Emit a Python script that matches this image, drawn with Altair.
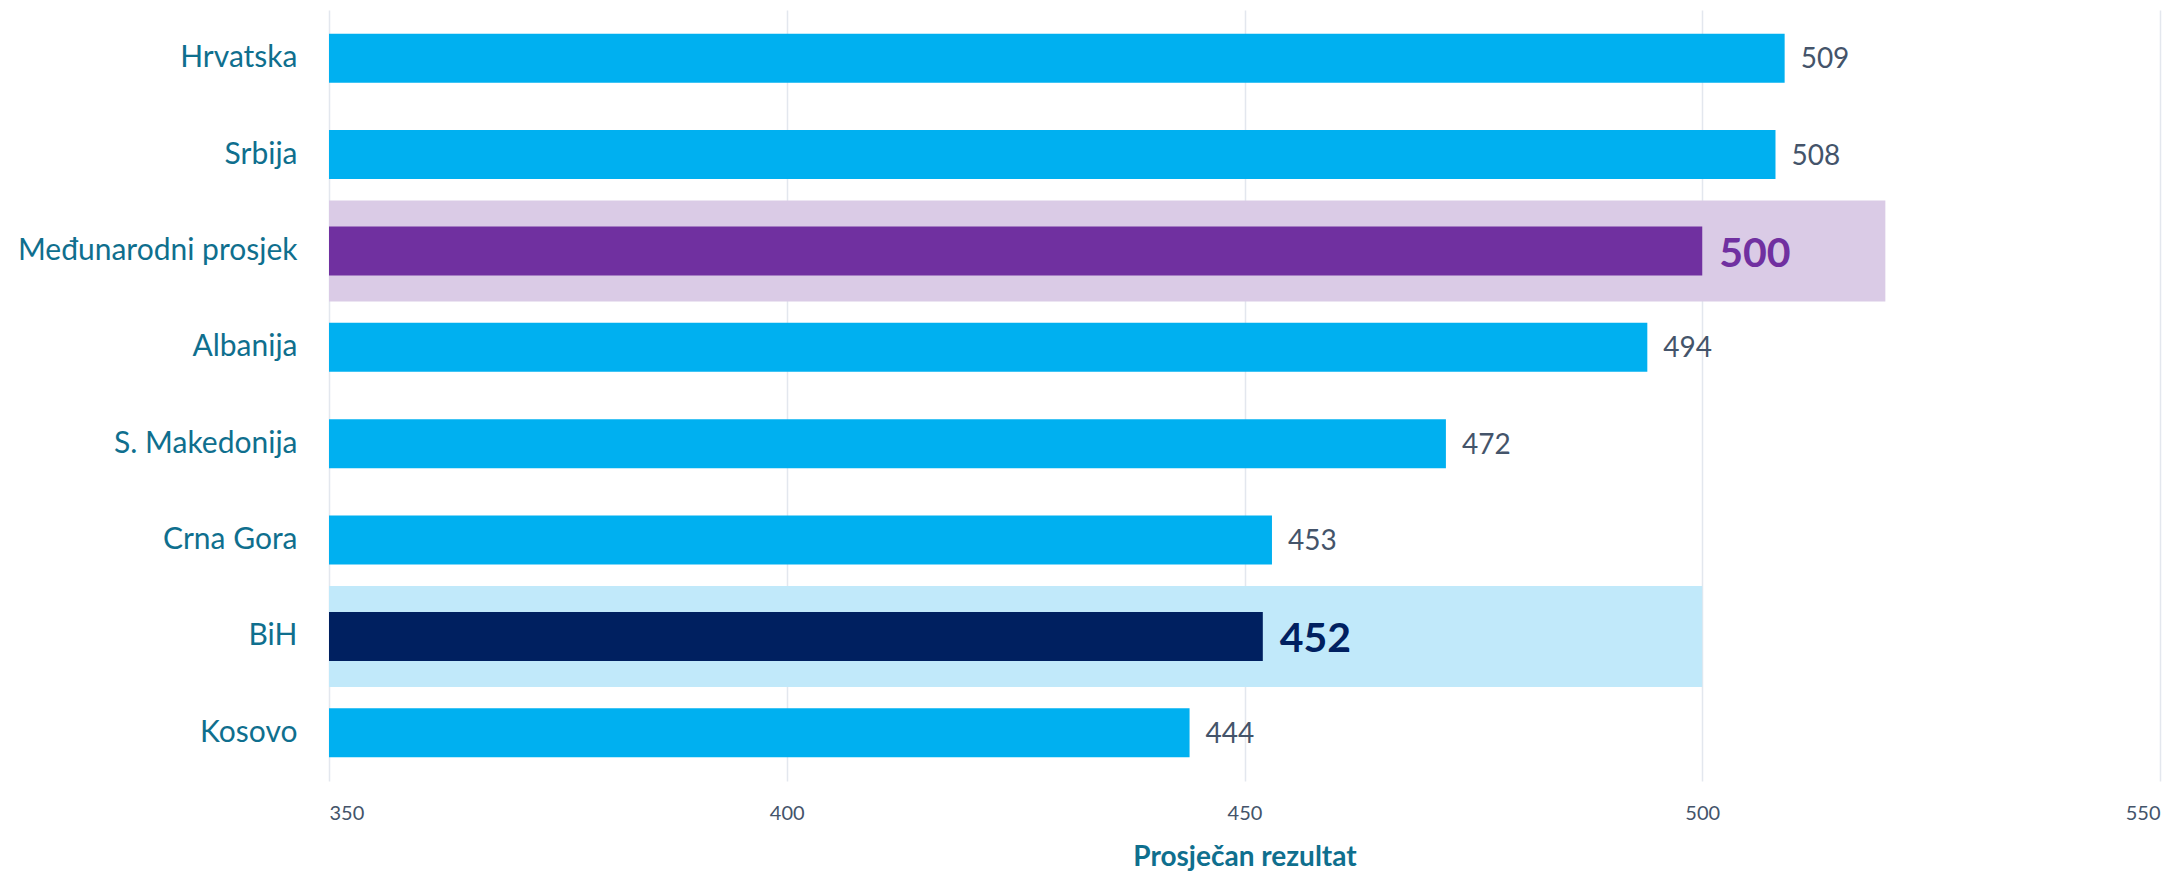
import altair as alt
import pandas as pd

countries = ["Hrvatska", "Srbija", "Međunarodni prosjek", "Albanija",
             "S. Makedonija", "Crna Gora", "BiH", "Kosovo"]
scores = [509, 508, 500, 494, 472, 453, 452, 444]
bar_colors = ["#00B0F0", "#00B0F0", "#7030A0", "#00B0F0",
              "#00B0F0", "#00B0F0", "#002060", "#00B0F0"]
emphasis = [False, False, True, False, False, False, True, False]

hl_countries = ["Međunarodni prosjek", "BiH"]
hl_end = [520, 500]
hl_colors = ["#DACBE6", "#C1E9FA"]

x_ticks = [350, 400, 450, 500, 550]
x_title = "Prosječan rezultat"

FONT = "Lato"
LABEL_COLOR = "#44546A"
TEAL = "#0F6F8E"

df = pd.DataFrame({"country": countries, "score": scores,
                   "color": bar_colors, "emph": emphasis})
hl = pd.DataFrame({"country": hl_countries, "end": hl_end, "color": hl_colors})

y_enc = alt.Y("country:N", sort=countries,
              scale=alt.Scale(paddingInner=0, paddingOuter=0),
              axis=alt.Axis(title=None, ticks=False, domain=False, grid=False,
                            labelFont=FONT, labelFontSize=30, labelColor=TEAL,
                            labelPadding=32, labelLimit=400))
x_scale = alt.Scale(domain=[350, 550], nice=False, zero=False)
x_axis = alt.Axis(values=x_ticks, title=x_title, grid=True, gridColor="#E3E7EE",
                  gridWidth=1.5, domain=False, ticks=False,
                  labelFont=FONT, labelFontSize=20, labelColor=LABEL_COLOR,
                  labelPadding=22, titleFont=FONT, titleFontSize=28,
                  titleFontWeight="bold", titleColor=TEAL, titlePadding=20)

highlight = alt.Chart(hl).mark_bar(size=101).encode(
    y=y_enc,
    x=alt.X("end:Q", scale=x_scale, axis=x_axis),
    x2=alt.datum(350),
    color=alt.Color("color:N", scale=None),
)

bars = alt.Chart(df).mark_bar(size=49).encode(
    y=y_enc,
    x=alt.X("score:Q", scale=x_scale, axis=x_axis),
    x2=alt.datum(350),
    color=alt.Color("color:N", scale=None),
)

labels = alt.Chart(df).transform_filter("!datum.emph").mark_text(
    align="left", baseline="middle", dx=16, dy=2, font=FONT, fontSize=28,
    color=LABEL_COLOR,
).encode(y=y_enc, x=alt.X("score:Q", scale=x_scale, axis=x_axis),
         text="score:Q")

big_labels = alt.Chart(df).transform_filter("datum.emph").mark_text(
    align="left", baseline="middle", dx=17, dy=4, font=FONT, fontSize=41,
    fontWeight="bold",
).encode(y=y_enc, x=alt.X("score:Q", scale=x_scale, axis=x_axis),
         text="score:Q", color=alt.Color("color:N", scale=None))

chart = alt.layer(highlight, bars, labels, big_labels).properties(
    width=1831, height=771,
    autosize=alt.AutoSizeParams(type="none"),
    padding={"left": 321, "top": 2, "right": 10, "bottom": 92},
).configure_view(stroke=None)

chart.save("out.html", embed_options={"renderer": "svg", "actions": False})
